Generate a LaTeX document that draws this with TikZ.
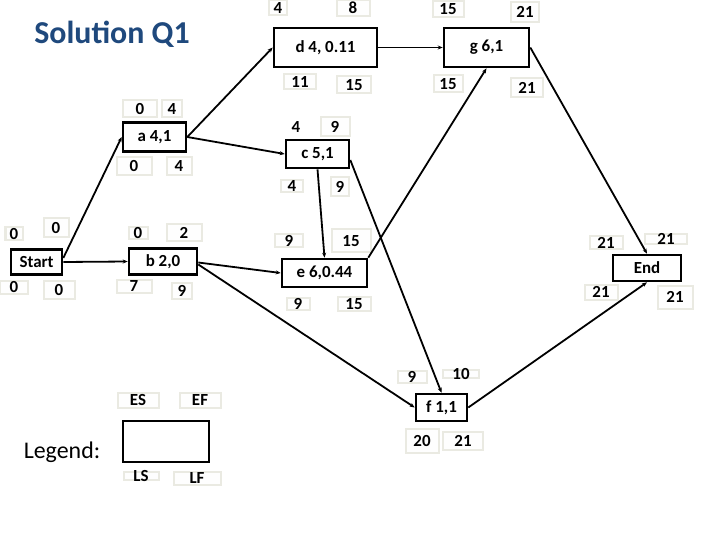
\documentclass[tikz,border=0pt]{standalone}
\usepackage{fontspec}
\setmainfont{Carlito}
\usetikzlibrary{arrows.meta}
\definecolor{titleblue}{RGB}{31,73,125}
\definecolor{lblgray}{RGB}{234,234,226}
\newcommand\numlbl[6]{%
  \node[lblbox, minimum width=#4bp, minimum height=#5bp] (#1box) at (#2,#3) {};
  \node[lbltxt] (#1) at (#2,#3) {#6};}
\begin{document}
\begin{tikzpicture}[x=1bp,y=-1bp,
  task/.style={draw=black, line width=2.6bp, fill=white, inner sep=0pt, font=\fontsize{17}{20}\selectfont\bfseries},
  lblbox/.style={draw=lblgray, line width=2bp, fill=white!96!lblgray, inner sep=0pt},
  lbltxt/.style={inner sep=0pt, font=\fontsize{17}{20}\selectfont\bfseries},
  edge/.style={draw=black, line width=1.8bp, -{Stealth[length=5bp,width=4bp]}},
]
\fill[white] (0,0) rectangle (720,540);
\useasboundingbox (0,0) rectangle (720,540);

% title and legend text
\node[font=\fontsize{32}{38}\selectfont\bfseries, text=titleblue] (title) at (112,34) {Solution Q1};
\node[font=\fontsize{24}{28}\selectfont] (legtext) at (62,452) {Legend:};

% tasks
\node[task, minimum width=103bp, minimum height=39bp] (d) at (325.5,47.5) {d 4, 0.11};
\node[task, minimum width=85bp, minimum height=39bp] (g) at (486.5,47.5) {g 6,1};
\node[task, minimum width=63bp, minimum height=29bp] (a) at (154.5,137) {a 4,1};
\node[task, minimum width=51bp, minimum height=25bp] (Start) at (36.5,262) {Start};
\node[task, minimum width=68bp, minimum height=26bp] (b) at (163,261.5) {b 2,0};
\node[task, minimum width=63bp, minimum height=28bp] (c) at (317.5,154) {c 5,1};
\node[task, minimum width=85bp, minimum height=28bp] (e) at (324.5,273) {e 6,0.44};
\node[task, minimum width=68bp, minimum height=26bp] (End) at (647,268) {End};
\node[task, minimum width=51bp, minimum height=27bp] (f) at (441.5,407.5) {f 1,1};
\node[task, minimum width=86bp, minimum height=41bp] (leg) at (166,441.5) {};

% number labels
\numlbl{dES}{278}{8}{18}{15}{4}
\numlbl{dEF}{353}{8}{33}{16}{8}
\numlbl{gES}{448}{9}{31}{16}{15}
\numlbl{gEF}{525}{12}{28}{20}{21}
\numlbl{dLS}{300}{82}{32}{15}{11}
\numlbl{dLF}{354}{85}{34}{17}{15}
\numlbl{gLS}{448}{84}{29}{17}{15}
\numlbl{gLF}{527}{88}{32}{19}{21}

\numlbl{aES}{140}{109}{34}{17}{0}
\numlbl{aEF}{172}{109}{20}{17}{4}
\numlbl{aLS}{134}{166}{35}{18}{0}
\numlbl{aLF}{179}{166}{25}{18}{4}

\numlbl{sES}{14}{234}{17}{13}{0}
\numlbl{sEF}{56}{228}{25}{19}{0}
\numlbl{sLS}{14}{287}{28}{13}{0}
\numlbl{sLF}{59}{290}{31}{18}{0}

\numlbl{bES}{138}{233}{19}{12}{0}
\numlbl{bEF}{184}{233}{35}{17}{2}
\numlbl{bLS}{134}{286}{35}{13}{7}
\numlbl{bLF}{182}{291}{20}{16}{9}

\node[lbltxt] (cES) at (296,127) {4};
\numlbl{cEF}{335}{127}{29}{19}{9}
\numlbl{cLS}{292}{186}{22}{12}{4}
\numlbl{cLF}{340}{187}{18}{19}{9}

\numlbl{eES}{289}{241}{28}{13}{9}
\numlbl{eEF}{351}{241}{39}{23}{15}
\numlbl{eLS}{298}{304}{23}{12}{9}
\numlbl{eLF}{354}{304}{33}{14}{15}

\numlbl{endES}{606}{243}{33}{13}{21}
\numlbl{endEF}{666}{239}{42}{10}{21}
\numlbl{endLS}{601}{292}{33}{15}{21}
\numlbl{endLF}{675}{297}{35}{23}{21}

\numlbl{fES}{412}{377}{29}{12}{9}
\numlbl{fEF}{461}{374}{36}{8}{10}
\numlbl{fLS}{422}{441}{33}{24}{20}
\numlbl{fLF}{463}{441}{40}{18}{21}

\numlbl{legES}{138}{400}{41}{15}{ES}
\numlbl{legEF}{200}{400}{41}{15}{EF}
\numlbl{legLS}{141}{476}{35}{8}{LS}
\numlbl{legLF}{197}{478}{47}{13}{LF}

% connectors
\draw[edge] ([yshift=4bp]Start.east) -- (a.west);
\draw[edge] (Start.east) -- (b.west);
\draw[edge] (a.east) -- (d.west);
\draw[edge] (a.east) -- (c.west);
\draw[edge] ([yshift=-1bp]b.east) -- (e.west);
\draw[edge] ([yshift=-3bp]b.east) -- (f.west);
\draw[edge] (c.south) -- (e.north);
\draw[edge] ([yshift=-6bp]c.east) -- (f.north);
\draw[edge] (e.north east) -- (g.south);
\draw[edge] (d.east) -- (g.west);
\draw[edge] (g.east) -- (End.north);
\draw[edge] (f.east) -- (End.south);
\end{tikzpicture}
\end{document}
